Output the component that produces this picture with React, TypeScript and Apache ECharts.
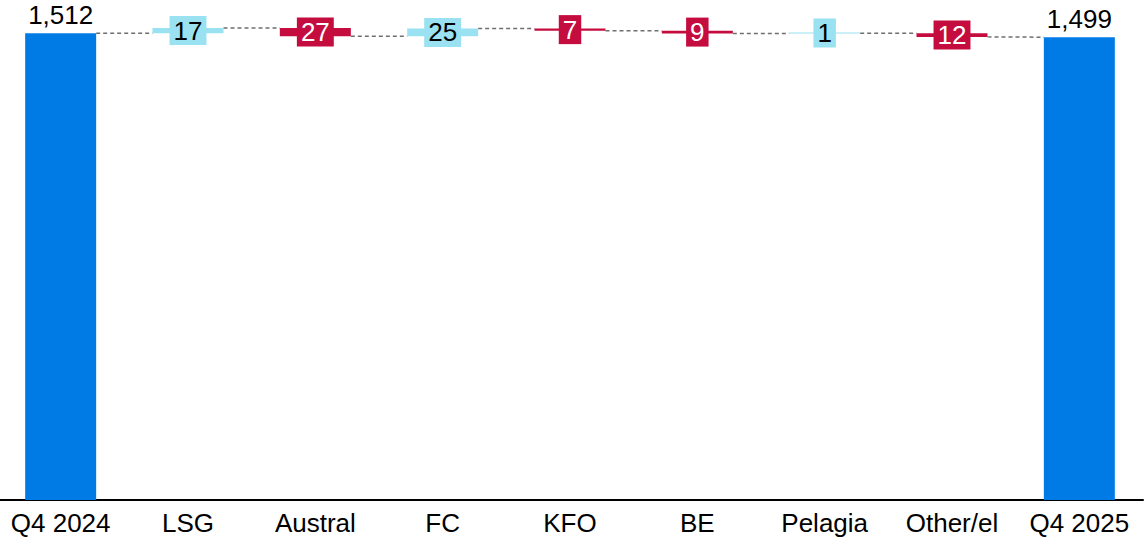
import React, { useEffect, useRef } from "react";
import * as echarts from "echarts";

const categories = ["Q4 2024", "LSG", "Austral", "FC", "KFO", "BE", "Pelagia", "Other/el", "Q4 2025"];
const openingTotal = 1512;
const closingTotal = 1499;
const deltas = [17, -27, 25, -7, -9, 1, -12];

const BLUE = "#007BE6";
const LIGHT = "#9AE1F1";
const RED = "#C50C3F";
const FONT = "Arial, 'Liberation Sans', Helvetica, sans-serif";
const BAR_W = 71;
const FS = 26;

export default function App() {
  const ref = useRef<HTMLDivElement>(null);

  useEffect(() => {
    if (!ref.current) return;
    const chart = echarts.init(ref.current, undefined, { renderer: "svg" });

    const bases: number[] = [0];
    const values: any[] = [];
    const labels: string[] = [openingTotal.toLocaleString("en-US")];
    const connectors: number[][] = [];
    const totalLabel = { position: "top", distance: 8, color: "#000", lineHeight: 20 };
    values.push({ value: openingTotal, itemStyle: { color: BLUE }, label: totalLabel });
    let level = openingTotal;
    deltas.forEach((d, k) => {
      const start = level;
      const end = level + d;
      connectors.push([k, start, start]);
      bases.push(Math.min(start, end));
      const pos = d >= 0;
      values.push({
        value: Math.abs(d),
        itemStyle: { color: pos ? LIGHT : RED },
        label: {
          position: "inside",
          color: pos ? "#000" : "#fff",
          backgroundColor: pos ? LIGHT : RED,
          padding: [0, 4],
          lineHeight: 29,
        },
      });
      labels.push(String(Math.abs(d)));
      level = end;
    });
    connectors.push([deltas.length, level, closingTotal]);
    bases.push(0);
    values.push({ value: closingTotal, itemStyle: { color: BLUE }, label: totalLabel });
    labels.push(closingTotal.toLocaleString("en-US"));

    chart.setOption({
      animation: false,
      grid: { left: 0, right: 2, top: 6, bottom: 38, containLabel: false },
      xAxis: {
        type: "category",
        data: categories,
        axisLine: { show: true, lineStyle: { color: "#000", width: 2 } },
        axisTick: { show: false },
        axisLabel: { color: "#000", fontSize: FS, fontFamily: FONT, margin: 10, interval: 0 },
        splitLine: { show: false },
      },
      yAxis: {
        type: "value",
        min: 0,
        max: 1600,
        show: false,
        splitLine: { show: false },
      },
      series: [
        {
          type: "custom",
          z: 1,
          data: connectors,
          encode: { x: 0, y: [1, 2] },
          silent: true,
          renderItem: (params: any, api: any) => {
            const i = api.value(0);
            const a = api.coord([i, api.value(1)]);
            const b = api.coord([i + 1, api.value(2)]);
            return {
              type: "line",
              shape: { x1: a[0] + BAR_W / 2, y1: a[1], x2: b[0] - BAR_W / 2, y2: b[1] },
              style: { stroke: "#6f6f6f", lineWidth: 1.5, lineDash: [4, 3] },
            };
          },
        },
        {
          type: "bar",
          stack: "wf",
          barWidth: BAR_W,
          z: 2,
          silent: true,
          itemStyle: { color: "transparent" },
          data: bases,
          label: { show: false },
        },
        {
          type: "bar",
          stack: "wf",
          barWidth: BAR_W,
          barMinHeight: 1,
          z: 3,
          data: values,
          label: {
            show: true,
            fontSize: FS,
            fontFamily: FONT,
            textBorderWidth: 0,
            formatter: (p: any) => labels[p.dataIndex],
          },
        },
      ],
    });

    return () => chart.dispose();
  }, []);

  return (
    <div
      ref={ref}
      style={{ position: "absolute", left: -3, top: 0, width: 1148, height: 538, background: "#fff" }}
    />
  );
}
